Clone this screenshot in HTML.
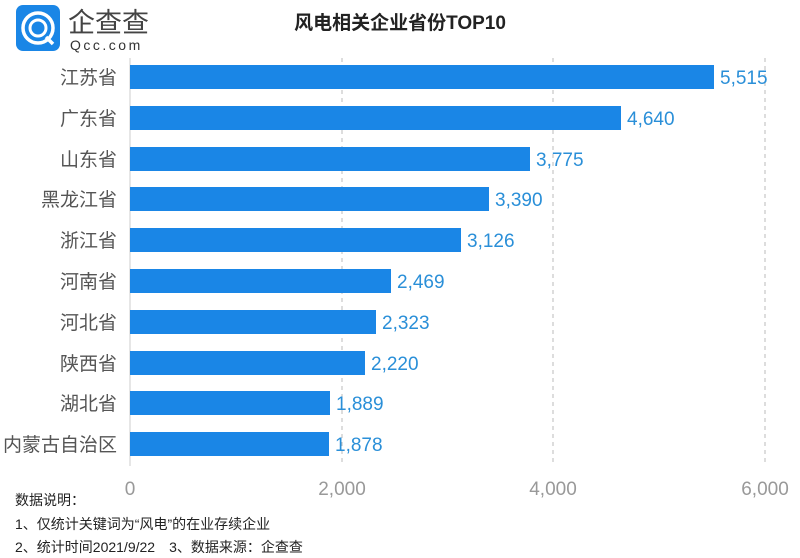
<!DOCTYPE html>
<html><head><meta charset="utf-8"><style>
body{margin:0;background:#fff;}
svg{display:block;font-family:"Liberation Sans","Noto Sans CJK SC",sans-serif;}
</style></head><body>
<svg width="800" height="558" viewBox="0 0 800 558">
<rect width="800" height="558" fill="#fff"/>
<rect x="16" y="5" width="44" height="46" rx="7" fill="#1a86e6"/>
<circle cx="38" cy="28" r="15" fill="none" stroke="#fff" stroke-width="3.5"/>
<circle cx="38" cy="28" r="8" fill="none" stroke="#fff" stroke-width="3"/>
<line x1="46" y1="37" x2="53" y2="44" stroke="#fff" stroke-width="3.5"/>
<text x="68" y="32" font-size="27" fill="#444">企查查</text>
<text x="70" y="50" font-size="14" fill="#333" letter-spacing="2.5">Qcc.com</text>
<text x="400" y="29" font-size="19" font-weight="bold" fill="#222" text-anchor="middle">风电相关企业省份TOP10</text>
<g stroke="#bbb" stroke-dasharray="4,4" stroke-width="1">
<line x1="342" y1="58" x2="342" y2="466"/>
<line x1="553" y1="58" x2="553" y2="466"/>
<line x1="765" y1="58" x2="765" y2="466"/>
</g>
<line x1="130" y1="58" x2="130" y2="466" stroke="#ccc"/>
<g font-size="19" fill="#999" text-anchor="middle">
<text x="130" y="495">0</text><text x="342" y="495">2,000</text><text x="553" y="495">4,000</text><text x="765" y="495">6,000</text>
</g>
<g fill="#1a86e6">
<rect x="130" y="65" width="584" height="24"/>
<rect x="130" y="106" width="491" height="24"/>
<rect x="130" y="147" width="400" height="24"/>
<rect x="130" y="187" width="359" height="24"/>
<rect x="130" y="228" width="331" height="24"/>
<rect x="130" y="269" width="261" height="24"/>
<rect x="130" y="310" width="246" height="24"/>
<rect x="130" y="351" width="235" height="24"/>
<rect x="130" y="391" width="200" height="24"/>
<rect x="130" y="432" width="199" height="24"/>
</g>
<g font-size="19" fill="#2a8fd8">
<text x="720" y="84">5,515</text><text x="627" y="125">4,640</text><text x="536" y="166">3,775</text>
<text x="495" y="206">3,390</text><text x="467" y="247">3,126</text><text x="397" y="288">2,469</text>
<text x="382" y="329">2,323</text><text x="371" y="370">2,220</text><text x="336" y="410">1,889</text>
<text x="335" y="451">1,878</text>
</g>
<g font-size="19" fill="#555" text-anchor="end">
<text x="117" y="84">江苏省</text><text x="117" y="125">广东省</text><text x="117" y="166">山东省</text>
<text x="117" y="206">黑龙江省</text><text x="117" y="247">浙江省</text><text x="117" y="288">河南省</text>
<text x="117" y="329">河北省</text><text x="117" y="370">陕西省</text><text x="117" y="410">湖北省</text>
<text x="117" y="451">内蒙古自治区</text>
</g>
<g font-size="14" fill="#222">
<text x="15" y="505">数据说明：</text>
<text x="15" y="529">1、仅统计关键词为“风电”的在业存续企业</text>
<text x="15" y="552">2、统计时间2021/9/22　3、数据来源：企查查</text>
</g>
</svg>
</body></html>
